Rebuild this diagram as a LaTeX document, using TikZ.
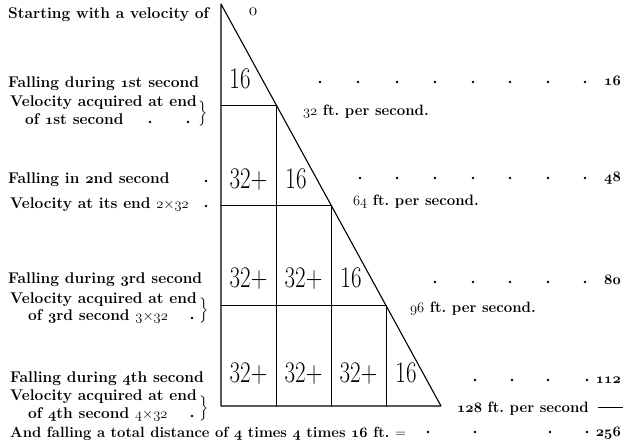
\documentclass[tikz,border=0pt]{standalone}
\usepackage{amsmath,amssymb}
\usetikzlibrary{positioning}

\newcommand{\osn}[1]{{\usefont{OML}{cmm}{b}{it}#1}}
\newcommand{\osm}[1]{{\usefont{OML}{cmm}{m}{it}#1}}
\newcommand{\cellnum}[1]{\scalebox{1}[1.3]{#1}}

\tikzset{
  lbl/.style={anchor=base west, inner sep=0pt, font=\fontsize{15.5}{18}\selectfont\bfseries},
  ftps/.style={anchor=base west, inner sep=0pt, font=\fontsize{15}{18}\selectfont\bfseries},
  total/.style={anchor=base east, inner sep=0pt, font=\fontsize{15.5}{18}\selectfont\bfseries},
  cell/.style={anchor=base, inner sep=0pt, font=\fontsize{23}{23}\selectfont},
  brc/.style={inner sep=0pt, font=\fontsize{14}{17}\selectfont},
  leader/.style={fill=black},
}

\begin{document}
\begin{tikzpicture}[x=1pt, y=-1pt, line cap=round, line join=round]
\useasboundingbox (0,0) rectangle (626,447);

% triangle
\coordinate (apex) at (221,4);
\coordinate (bl) at (221,406);
\coordinate (br) at (441,406);
\draw[line width=1.1pt] (apex) -- (br) -- (bl) -- cycle;
\foreach \y/\x in {105/276, 205/331, 305/386}
  \draw[line width=1pt] (221,\y) -- (\x,\y) -- (\x,406);

% cell entries
\node[cell] (c11) at (240,88) {\cellnum{16}};
\node[cell] (c21) at (248.5,188) {\cellnum{32+}};
\node[cell] (c22) at (296,188) {\cellnum{16}};
\node[cell] (c31) at (248.5,287) {\cellnum{32+}};
\node[cell] (c32) at (303.5,287) {\cellnum{32+}};
\node[cell] (c33) at (351,287) {\cellnum{16}};
\node[cell] (c41) at (248.5,382) {\cellnum{32+}};
\node[cell] (c42) at (303.5,382) {\cellnum{32+}};
\node[cell] (c43) at (358.5,382) {\cellnum{32+}};
\node[cell] (c44) at (406,382) {\cellnum{16}};

% left column
\node[lbl] (start) at (8,18) {Starting with a velocity of};
\node[inner sep=0pt, font=\fontsize{17}{17}\selectfont] (vzero) at (253,12) {\osm{0}};

\node[lbl] (fall1) at (8,87) {Falling during \osn{1}st second};
\node[lbl] (acq1) at (10,106) {Velocity acquired at end};
\node[lbl] (end1) at (25,124) {of \osn{1}st second};
\node[brc] (brace1) at (203,114) {$\left.\vrule height 15pt depth 0pt width 0pt\right\}$};

\node[lbl] (fall2) at (8,183) {Falling in \osn{2}nd second};
\node[lbl] (acq2) at (10,208) {Velocity at its end {\mdseries\osm{2}$\times$\osm{32}}};

\node[lbl] (fall3) at (8,283) {Falling during \osn{3}rd second};
\node[lbl] (acq3) at (10,303) {Velocity acquired at end};
\node[lbl] (end3) at (28,320) {of \osn{3}rd second {\mdseries\osm{3}$\times$\osm{32}}};
\node[brc] (brace3) at (204,311) {$\left.\vrule height 15pt depth 0pt width 0pt\right\}$};

\node[lbl] (fall4) at (10,382) {Falling during \osn{4}th second};
\node[lbl] (acq4) at (10,400) {Velocity acquired at end};
\node[lbl] (end4) at (28,418) {of \osn{4}th second {\mdseries\osm{4}$\times$\osm{32}}};
\node[brc] (brace4) at (204,409) {$\left.\vrule height 15pt depth 0pt width 0pt\right\}$};

\node[lbl, font=\fontsize{14.8}{18}\selectfont\bfseries] (sum) at (10,437)
  {And falling a total distance of \osn{4} times \osn{4} times \osn{16} ft.\ $=$};

% trailing dots of the left column
\foreach \x/\y in {150/122, 188/122, 206/181, 206/206, 192/318, 192/416}
  \fill[leader] (\x,\y) circle (1.3pt);

% velocities along the slope
\node[ftps] (v1) at (303,115) {\osm{32} ft.\ per second.};
\node[ftps] (v2) at (353,205) {\osm{64} ft.\ per second.};
\node[ftps] (v3) at (410,312) {\osm{96} ft.\ per second.};
\node[ftps] (v4) at (457,412) {\osn{128} ft.\ per second\hspace{9pt}\rule[4pt]{25pt}{1pt}};

% leaders and distances
\foreach \x in {320,358,397,435,473,510,548,585} \fill[leader] (\x,82) circle (1.3pt);
\foreach \x in {360,397,435,473,510,548,585} \fill[leader] (\x,178) circle (1.3pt);
\foreach \x in {435,473,510,548,585} \fill[leader] (\x,282) circle (1.3pt);
\foreach \x in {475,512,548,587} \fill[leader] (\x,380) circle (1.3pt);
\foreach \x in {428,475,550,587} \fill[leader] (\x,432) circle (1.3pt);

\node[total] (d1) at (621,85) {\osn{16}};
\node[total] (d2) at (621,181) {\osn{48}};
\node[total] (d3) at (621,284) {\osn{80}};
\node[total] (d4) at (621,383) {\osn{112}};
\node[total] (d5) at (621,436) {\osn{256}};
\end{tikzpicture}
\end{document}
